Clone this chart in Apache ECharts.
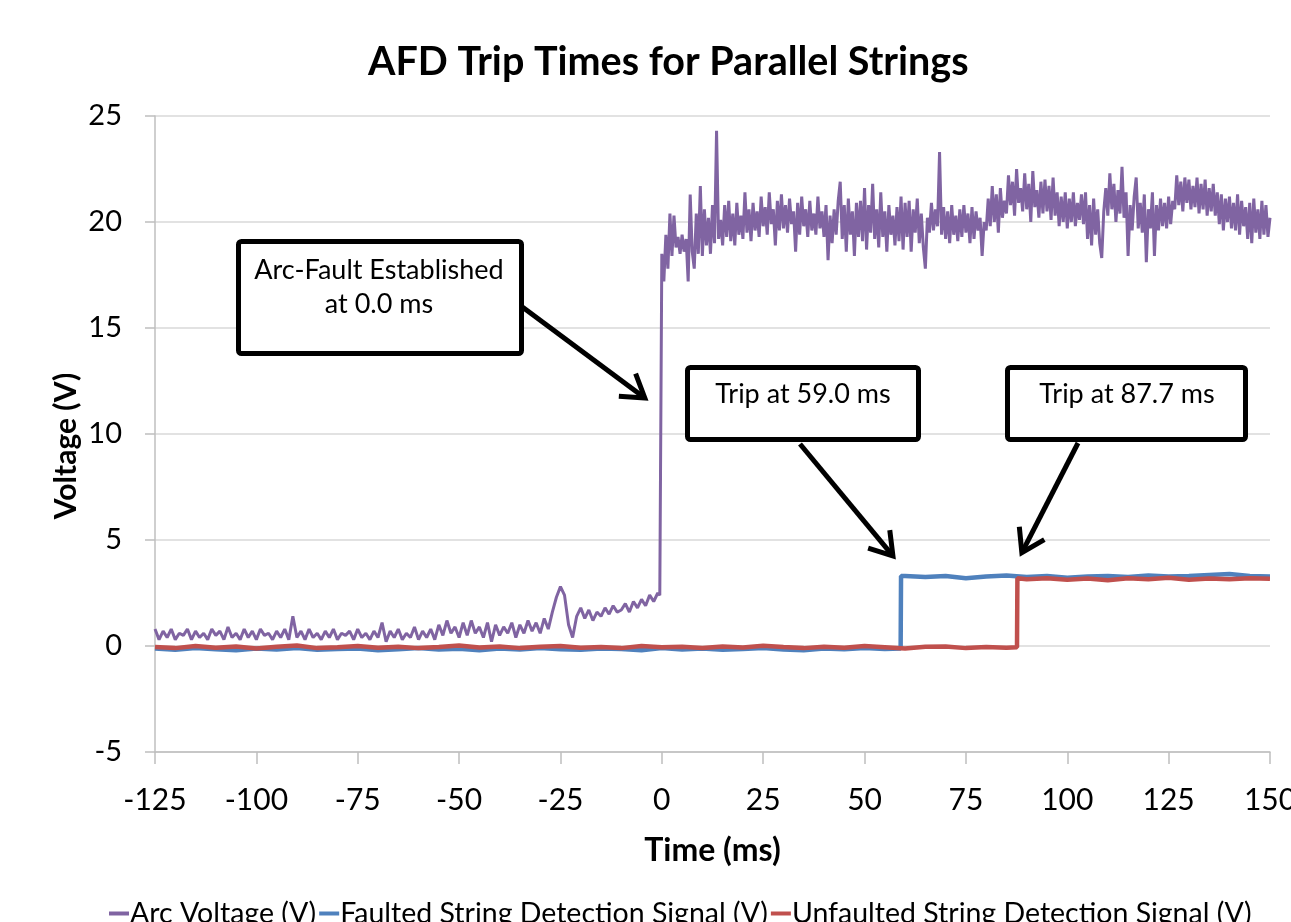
<!DOCTYPE html>
<html>
<head>
<meta charset="utf-8">
<script src="https://cdn.jsdelivr.net/npm/echarts@6/dist/echarts.min.js"></script>
<style>
html,body{margin:0;padding:0;background:#fff;}
#chart{width:1291px;height:922px;}
</style>
</head>
<body>
<div id="chart"></div>
<script>
// ---- Data ----
var seriesNames = ['Arc Voltage (V)', 'Faulted String Detection Signal (V)', 'Unfaulted String Detection Signal (V)'];
var xTicks = [-125, -100, -75, -50, -25, 0, 25, 50, 75, 100, 125, 150];
var yTicks = [-5, 0, 5, 10, 15, 20, 25];
var yAxisTitle = 'Voltage (V)';

// Arc voltage before the fault: 1 ms sampling from -125 ms to -1 ms
var arcPreStart = -125, arcPreStep = 1;
var arcPreVolt = [
  0.8,0.3,0.7,0.4,0.8,0.3,0.6,0.5,0.8,0.3,
  0.7,0.4,0.6,0.3,0.8,0.5,0.7,0.3,0.9,0.4,
  0.6,0.3,0.8,0.4,0.7,0.3,0.8,0.5,0.6,0.3,
  0.7,0.4,0.8,0.3,1.4,0.4,0.7,0.3,0.8,0.4,
  0.6,0.3,0.7,0.4,0.8,0.3,0.6,0.5,0.7,0.3,
  0.8,0.4,0.6,0.3,0.7,0.4,1.1,0.2,0.7,0.4,
  0.8,0.3,0.6,0.4,0.9,0.3,0.7,0.4,0.8,0.3,
  1.0,0.5,1.2,0.6,0.9,0.4,1.1,0.5,1.2,0.6,
  0.9,0.4,1.1,0.2,1.0,0.5,0.9,0.6,1.1,0.4,
  1.0,0.6,1.2,0.7,1.1,0.6,1.3,0.8,1.6,2.3,
  2.8,2.4,1.0,0.4,1.4,1.8,1.3,1.7,1.2,1.6,
  1.4,1.8,1.5,1.9,1.6,1.7,2.0,1.6,2.1,1.8,
  2.2,1.9,2.4,2.1,2.5
];
// Arc voltage after the fault: 0.5 ms sampling from -0.5 ms to 150 ms
var arcPostStart = -0.5, arcPostStep = 0.5;
var arcPostVolt = [
  2.4,
  18.5,17.2,19.4,17.8,20.4,18.4,20.3,18.8,19.3,18.5,
  19.4,18.6,19.2,17.2,21.3,18.6,17.8,20.4,18.5,21.7,
  18.4,20.6,18.9,20.2,18.5,20.8,19.0,24.3,19.2,20.1,
  18.9,20.8,19.3,21.0,19.1,20.4,18.9,20.9,19.4,20.3,
  19.2,21.4,19.5,20.6,19.1,20.9,19.6,20.5,19.3,21.2,
  19.8,20.7,19.4,21.4,19.9,20.6,18.9,21.0,19.6,21.3,
  19.7,20.8,19.5,21.1,19.9,20.5,18.6,20.9,19.4,21.2,
  19.8,20.6,19.3,21.0,19.6,20.4,19.4,21.2,19.7,20.5,
  19.3,20.8,18.2,20.3,19.0,20.6,19.4,21.0,21.9,19.2,
  20.8,18.6,21.1,19.4,20.5,18.4,20.9,19.3,21.0,19.1,
  21.6,18.7,20.8,19.5,21.8,19.2,20.6,18.8,21.4,19.3,
  20.5,18.6,20.8,19.4,20.3,18.9,20.7,19.1,21.2,18.7,
  20.9,19.3,21.0,18.6,20.6,19.5,21.1,19.0,20.4,18.8,
  17.8,20.2,19.5,20.9,19.6,20.6,19.8,23.3,19.4,20.7,
  19.2,20.5,19.0,20.8,19.4,20.3,19.1,20.6,19.3,20.8,
  19.5,20.4,19.0,20.7,19.2,20.5,19.6,20.2,18.4,20.0,
  19.6,21.1,19.8,21.7,20.0,21.3,19.5,21.6,20.2,21.0,
  20.4,22.2,20.8,21.9,20.3,22.5,20.9,21.6,20.5,22.3,
  20.6,21.8,20.0,22.4,20.7,21.5,20.2,21.9,20.4,22.0,
  20.5,21.7,20.1,22.1,20.3,21.4,19.8,21.2,20.0,21.4,
  19.7,21.1,20.0,21.4,19.8,20.9,20.1,21.3,19.9,21.4,
  19.2,20.8,18.9,21.1,19.4,20.6,19.0,18.3,20.5,21.6,
  20.3,22.3,20.6,21.8,20.0,21.5,20.4,22.6,20.2,21.4,
  18.4,20.8,19.6,21.2,22.1,19.7,20.9,19.5,21.3,18.1,
  20.6,19.7,21.4,18.4,20.8,19.6,21.1,19.8,20.9,19.7,
  21.2,19.9,21.0,20.6,22.2,20.8,21.9,20.5,22.1,20.9,
  22.0,20.6,21.7,20.7,22.1,20.4,21.8,20.6,22.0,20.3,
  21.6,20.5,21.8,20.3,21.4,19.9,21.3,19.6,21.1,20.0,
  21.2,19.7,20.9,19.6,21.3,19.4,21.0,19.8,20.7,19.2,
  20.9,19.0,21.1,19.5,20.6,19.2,21.0,19.4,20.8,19.3,
  20.2
];

var faultedTime = [-125,-120,-115,-110,-105,-100,-95,-90,-85,-80,-75,-70,-65,-60,-55,-50,-45,-40,-35,-30,-25,-20,-15,-10,-5,0,5,10,15,20,25,30,35,40,45,50,55,58.9,59.0,60,65,70,75,80,85,90,95,100,105,110,115,120,125,130,135,140,145,150];
var faultedVolt = [-0.12,-0.18,-0.1,-0.15,-0.2,-0.12,-0.16,-0.1,-0.18,-0.14,-0.12,-0.2,-0.15,-0.1,-0.17,-0.13,-0.2,-0.12,-0.16,-0.1,-0.15,-0.18,-0.12,-0.14,-0.2,-0.1,-0.16,-0.12,-0.18,-0.14,-0.1,-0.16,-0.2,-0.12,-0.15,-0.1,-0.14,-0.12,3.3,3.3,3.25,3.3,3.2,3.28,3.32,3.25,3.3,3.22,3.28,3.3,3.25,3.32,3.28,3.3,3.35,3.4,3.3,3.28];

var unfaultedTime = [-125,-120,-115,-110,-105,-100,-95,-90,-85,-80,-75,-70,-65,-60,-55,-50,-45,-40,-35,-30,-25,-20,-15,-10,-5,0,5,10,15,20,25,30,35,40,45,50,55,60,65,70,75,80,85,87.6,87.7,90,95,100,105,110,115,120,125,130,135,140,145,150];
var unfaultedVolt = [-0.05,-0.1,0.0,-0.08,-0.02,-0.12,-0.04,0.02,-0.1,-0.06,0.0,-0.08,-0.03,-0.1,-0.05,0.02,-0.07,-0.02,-0.1,-0.04,0.0,-0.08,-0.05,-0.1,0.0,-0.06,-0.03,-0.09,-0.02,-0.07,0.01,-0.05,-0.1,-0.03,-0.08,0.0,-0.06,-0.12,-0.04,-0.02,-0.1,-0.05,-0.08,-0.06,3.2,3.15,3.2,3.12,3.18,3.1,3.2,3.15,3.22,3.12,3.18,3.15,3.2,3.17];

// Annotation texts and the data points their arrows point to
var annoTexts = [['Arc-Fault Established', 'at 0.0 ms'], ['Trip at 59.0 ms'], ['Trip at 87.7 ms']];
var annoTargets = [[-4.2, 11.7], [57.0, 4.25], [88.8, 4.4]];

// ---- Build series data ----
var arcData = [];
arcPreVolt.forEach(function (v, i) { arcData.push([arcPreStart + i * arcPreStep, v]); });
arcPostVolt.forEach(function (v, i) { arcData.push([arcPostStart + i * arcPostStep, v]); });
var faultedData = faultedTime.map(function (t, i) { return [t, faultedVolt[i]]; });
var unfaultedData = unfaultedTime.map(function (t, i) { return [t, unfaultedVolt[i]]; });

var FONT = 'Lato';
var colors = ['#8064A2', '#4F81BD', '#C0504D'];

var chart = echarts.init(document.getElementById('chart'), null, {renderer: 'canvas'});
var option = {
  animation: false,
  backgroundColor: '#fff',
  color: colors,
  title: {
    text: 'AFD Trip Times for Parallel Strings',
    left: 363, top: 37,
    textStyle: {fontFamily: FONT, fontWeight: 'bold', fontSize: 39.5, color: '#000'}
  },
  legend: {
    top: 894, left: 104,
    itemGap: 3, itemWidth: 20, itemHeight: 4,
    icon: 'rect',
    textStyle: {fontFamily: FONT, fontSize: 28.5, color: '#000', padding: [0, 0, 0, -4]},
    data: seriesNames
  },
  grid: {left: 155, right: 21, top: 116, bottom: 170, containLabel: false, outerBoundsMode: 'none'},
  xAxis: {
    type: 'value', min: xTicks[0], max: xTicks[xTicks.length - 1], interval: 25,
    name: 'Time (ms)', nameLocation: 'middle', nameGap: 83,
    nameTextStyle: {fontFamily: FONT, fontWeight: 'bold', fontSize: 32, color: '#000'},
    axisLine: {onZero: false, lineStyle: {color: '#bfbfbf', width: 1.5}},
    axisTick: {show: true, length: 12, lineStyle: {color: '#bfbfbf', width: 1.5}},
    axisLabel: {fontFamily: FONT, fontSize: 30, color: '#000', margin: 33},
    splitLine: {show: false}
  },
  yAxis: {
    type: 'value', min: yTicks[0], max: yTicks[yTicks.length - 1], interval: 5,
    axisLine: {show: true, onZero: false, lineStyle: {color: '#bfbfbf', width: 1.5}},
    axisTick: {show: true, length: 10, lineStyle: {color: '#bfbfbf', width: 1.5}},
    axisLabel: {fontFamily: FONT, fontSize: 29, color: '#000', margin: 33},
    splitLine: {show: true, lineStyle: {color: '#d9d9d9', width: 1.5}}
  },
  series: [
    {name: seriesNames[0], type: 'line', data: arcData, showSymbol: false, symbol: 'none',
     lineStyle: {color: colors[0], width: 3}, z: 2},
    {name: seriesNames[1], type: 'line', data: faultedData, showSymbol: false, symbol: 'none',
     lineStyle: {color: colors[1], width: 4.5}, z: 3},
    {name: seriesNames[2], type: 'line', data: unfaultedData, showSymbol: false, symbol: 'none',
     lineStyle: {color: colors[2], width: 4.5}, z: 4}
  ]
};
chart.setOption(option);

// ---- Annotation boxes & arrows (layout in pixels, arrow tips from data coords) ----
var boxes = [
  {x: 238.5, y: 241.5, w: 283, h: 112, cx: 379, lines: [270, 304], from: [521, 306]},
  {x: 687.5, y: 367.5, w: 231, h: 72, cx: 803, lines: [394], from: [800, 444]},
  {x: 1007.5, y: 367.5, w: 238, h: 72, cx: 1127, lines: [394], from: [1078, 443]}
];
var graphics = [];
// y-axis title
graphics.push({type: 'text', z: 10, x: 66, y: 446, rotation: Math.PI / 2,
  style: {text: yAxisTitle, fontFamily: FONT, fontWeight: 'bold', fontSize: 30, fill: '#000', align: 'center', verticalAlign: 'middle'}});
boxes.forEach(function (b, k) {
  var tip = chart.convertToPixel({gridIndex: 0}, annoTargets[k]);
  var dx = tip[0] - b.from[0], dy = tip[1] - b.from[1];
  var len = Math.sqrt(dx * dx + dy * dy);
  var ux = dx / len, uy = dy / len;
  var hl = 26, ang = Math.PI / 5.5;
  function rot(a) {
    return [ux * Math.cos(a) - uy * Math.sin(a), ux * Math.sin(a) + uy * Math.cos(a)];
  }
  var r1 = rot(ang), r2 = rot(-ang);
  graphics.push({type: 'line', z: 20,
    shape: {x1: b.from[0], y1: b.from[1], x2: tip[0] - ux * 2, y2: tip[1] - uy * 2},
    style: {stroke: '#000', lineWidth: 5}});
  graphics.push({type: 'polyline', z: 20,
    shape: {points: [[tip[0] - r1[0] * hl, tip[1] - r1[1] * hl], tip, [tip[0] - r2[0] * hl, tip[1] - r2[1] * hl]]},
    style: {stroke: '#000', lineWidth: 5, fill: null, lineJoin: 'miter'}});
  graphics.push({type: 'rect', z: 21,
    shape: {x: b.x, y: b.y, width: b.w, height: b.h, r: 3},
    style: {fill: '#fff', stroke: '#000', lineWidth: 5}});
  annoTexts[k].forEach(function (t, j) {
    graphics.push({type: 'text', z: 22, x: b.cx, y: b.lines[j],
      style: {text: t, fontFamily: FONT, fontSize: 27, fill: '#000', align: 'center', verticalAlign: 'middle'}});
  });
});
chart.setOption({graphic: graphics});
</script>
</body>
</html>
